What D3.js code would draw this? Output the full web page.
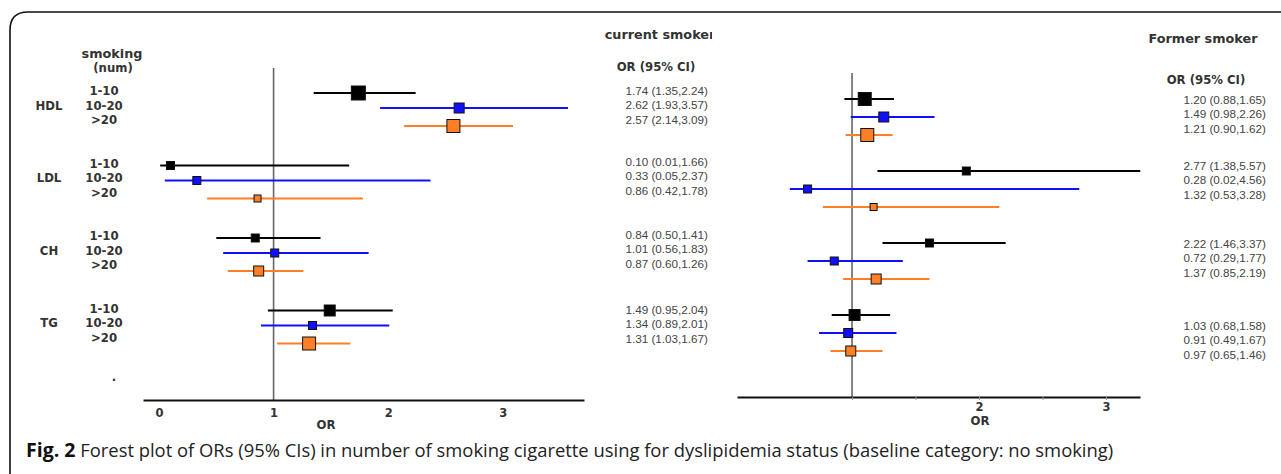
<!DOCTYPE html>
<html>
<head>
<meta charset="utf-8">
<script src="https://cdn.jsdelivr.net/npm/d3@7"></script>
<style>
  body { margin: 0; background: #fff; }
  svg { display: block; }
  .lbl { font-family: "DejaVu Sans", sans-serif; font-weight: bold; font-size: 11.7px; fill: #333; }
  .ttl { font-family: "DejaVu Sans", sans-serif; font-weight: bold; font-size: 12.8px; fill: #333; }
  .val { font-family: "Liberation Sans", Arial, sans-serif; font-size: 11.7px; fill: #444; }
  .axis text { font-family: "DejaVu Sans", sans-serif; font-weight: bold; font-size: 11.5px; fill: #333; }
  .caption { font-family: "Open Sans", "Noto Sans", sans-serif; font-size: 18.4px; fill: #222; }
</style>
</head>
<body>
<svg id="chart" width="1281" height="474"></svg>
<script>
const W = 1281, H = 474;

// lipid groups and smoking amount (cigarettes / day)
const groups = ['HDL', 'LDL', 'CH', 'TG'];
const levels = ['1-10', '10-20', '>20'];
const levelColors = ['#000000', '#1010ff', '#ff7f27'];

// current smoker: OR and 95% CI (as printed)
const currentOR = [1.74, 2.62, 2.57, 0.10, 0.33, 0.86, 0.84, 1.01, 0.87, 1.49, 1.34, 1.31];
const currentLo = [1.35, 1.93, 2.14, 0.01, 0.05, 0.42, 0.50, 0.56, 0.60, 0.95, 0.89, 1.03];
const currentHi = [2.24, 3.57, 3.09, 1.66, 2.37, 1.78, 1.41, 1.83, 1.26, 2.04, 2.01, 1.67];
const currentWeight = [1.4, 1.0, 1.3, 0.8, 0.8, 0.7, 0.8, 0.8, 1.0, 1.1, 0.8, 1.3];

// former smoker: OR and 95% CI (as printed)
const formerOR = [1.20, 1.49, 1.21, 2.77, 0.28, 1.32, 2.22, 0.72, 1.37, 1.03, 0.91, 0.97];
const formerLo = [0.88, 0.98, 0.90, 1.38, 0.02, 0.53, 1.46, 0.29, 0.85, 0.68, 0.49, 0.65];
const formerHi = [1.65, 2.26, 1.62, 5.57, 4.56, 3.28, 3.37, 1.77, 2.19, 1.58, 1.67, 1.46];
// former smoker: positions as drawn in the figure (they do not follow the printed values)
const formerPlotOR = [1.10, 1.25, 1.12, 1.90, 0.65, 1.17, 1.61, 0.86, 1.19, 1.02, 0.97, 0.99];
const formerPlotLo = [0.94, 0.99, 0.95, 1.20, 0.51, 0.77, 1.24, 0.65, 0.93, 0.84, 0.74, 0.83];
const formerPlotHi = [1.33, 1.65, 1.32, 3.27, 2.79, 2.16, 2.21, 1.40, 1.61, 1.30, 1.35, 1.24];
const formerWeight = [1.3, 1.0, 1.3, 0.8, 0.8, 0.7, 0.8, 0.8, 1.0, 1.1, 0.9, 1.0];

const fmt = d3.format('.2f');
const ciText = (or, lo, hi) => or.map((d, i) => `${fmt(d)} (${fmt(lo[i])},${fmt(hi[i])})`);

const svg = d3.select('#chart');
const boxSize = d3.scaleLinear().domain([0, 1]).range([0, 10]);

// frame
svg.append('path')
  .attr('d', 'M10,480 V30 Q10,12 28,12 H1290')
  .attr('fill', 'none').attr('stroke', '#111').attr('stroke-width', 1.6);

// row labels
const rowY = (g, i) => 91 + g * 72.5 + i * 14.5;
groups.forEach((g, gi) => {
  svg.append('text').attr('class', 'lbl')
    .attr('x', 49).attr('y', rowY(gi, 1) + 4).attr('text-anchor', 'middle').text(g);
  levels.forEach((l, li) => {
    svg.append('text').attr('class', 'lbl')
      .attr('x', 104).attr('y', rowY(gi, li) + 4).attr('text-anchor', 'middle').text(l);
  });
});
svg.append('text').attr('class', 'ttl').attr('x', 112).attr('y', 58).attr('text-anchor', 'middle').text('smoking');
svg.append('text').attr('class', 'lbl').attr('x', 113).attr('y', 72).attr('text-anchor', 'middle').text('(num)');
svg.append('text').attr('class', 'lbl').attr('x', 114).attr('y', 381).attr('text-anchor', 'middle').text('.');

function panel(opt) {
  const x = d3.scaleLinear().domain(opt.domain).range(opt.range);
  const g = svg.append('g');
  const y = (k) => opt.y0 + Math.floor(k / 3) * opt.gap + opt.steps[k % 3];

  // reference line at OR = 1
  g.append('line')
    .attr('x1', x(1)).attr('x2', x(1))
    .attr('y1', opt.refTop).attr('y2', opt.axisY)
    .attr('stroke', '#666').attr('stroke-width', 1.6);

  const axis = d3.axisBottom(x)
    .tickValues(opt.ticks)
    .tickSize(opt.tickSize)
    .tickSizeOuter(0)
    .tickPadding(opt.tickPad)
    .tickFormat(d => opt.tickLabels.includes(d) ? d3.format('d')(d) : '');
  const ax = g.append('g').attr('class', 'axis')
    .attr('transform', `translate(0,${opt.axisY})`).call(axis);
  ax.select('.domain').attr('stroke', '#111').attr('stroke-width', 2.2);
  ax.selectAll('.tick line').attr('stroke', '#999');

  g.append('text').attr('class', 'lbl')
    .attr('x', opt.orX).attr('y', opt.orY).attr('text-anchor', 'middle').text('OR');

  const rows = opt.or.map((d, k) => ({ k, or: d, lo: opt.lo[k], hi: opt.hi[k], w: opt.w[k] }));
  const row = g.selectAll('g.row').data(rows).join('g').attr('class', 'row');
  row.append('line')
    .attr('x1', d => x(d.lo)).attr('x2', d => x(d.hi))
    .attr('y1', d => y(d.k)).attr('y2', d => y(d.k))
    .attr('stroke', d => levelColors[d.k % 3]).attr('stroke-width', 2);
  row.append('rect')
    .attr('x', d => x(d.or) - boxSize(d.w) / 2)
    .attr('y', d => y(d.k) - boxSize(d.w) / 2)
    .attr('width', d => boxSize(d.w)).attr('height', d => boxSize(d.w))
    .attr('fill', d => levelColors[d.k % 3])
    .attr('stroke', '#111').attr('stroke-width', 1);

  // titles and OR (95% CI) column
  const clip = 'clip' + opt.id;
  svg.append('clipPath').attr('id', clip).append('rect')
    .attr('x', opt.titleX - 80).attr('y', 0).attr('width', opt.titleClip).attr('height', 60);
  svg.append('text').attr('class', 'ttl').attr('clip-path', `url(#${clip})`)
    .attr('x', opt.titleX).attr('y', opt.titleY).attr('text-anchor', 'middle').text(opt.title);
  svg.append('text').attr('class', 'lbl')
    .attr('x', opt.headX).attr('y', opt.headY).attr('text-anchor', 'middle').text('OR (95% CI)');
  svg.selectAll(null).data(opt.labels).join('text').attr('class', 'val')
    .attr('x', opt.valX).attr('text-anchor', 'end')
    .attr('y', (d, k) => opt.valY[Math.floor(k / 3)] + (k % 3) * 14.3 + 4)
    .text(d => d);
}

panel({
  id: 'L', domain: [-0.14, 3.71], range: [143, 584],
  y0: 93, gap: 72.5, steps: [0, 15, 33],
  refTop: 68, axisY: 400,
  ticks: [0, 1, 2, 3], tickLabels: [0, 1, 2, 3], tickSize: 0, tickPad: 9,
  orX: 326, orY: 429,
  or: currentOR, lo: currentLo, hi: currentHi, w: currentWeight,
  title: 'current smoker', titleX: 660, titleY: 39, titleClip: 132,
  headX: 656, headY: 71,
  labels: ciText(currentOR, currentLo, currentHi), valX: 708,
  valY: [91, 162, 235, 310]
});

panel({
  id: 'R', domain: [0.094, 3.268], range: [737, 1140],
  y0: 99, gap: 72, steps: [0, 18, 36],
  refTop: 73, axisY: 397,
  ticks: [1, 1.5, 2, 2.5, 3], tickLabels: [2, 3], tickSize: 3, tickPad: 3,
  orX: 980, orY: 425,
  or: formerPlotOR, lo: formerPlotLo, hi: formerPlotHi, w: formerWeight,
  title: 'Former smoker', titleX: 1203, titleY: 43, titleClip: 200,
  headX: 1206, headY: 84,
  labels: ciText(formerOR, formerLo, formerHi), valX: 1266,
  valY: [100, 166, 244, 326]
});

// caption
const cap = svg.append('text').attr('class', 'caption').attr('x', 26).attr('y', 457);
cap.append('tspan').attr('font-weight', 'bold').attr('font-size', '19.5px').attr('fill', '#111').text('Fig. 2');
cap.append('tspan').text(' Forest plot of ORs (95% CIs) in number of smoking cigarette using for dyslipidemia status (baseline category: no smoking)');
</script>
</body>
</html>
